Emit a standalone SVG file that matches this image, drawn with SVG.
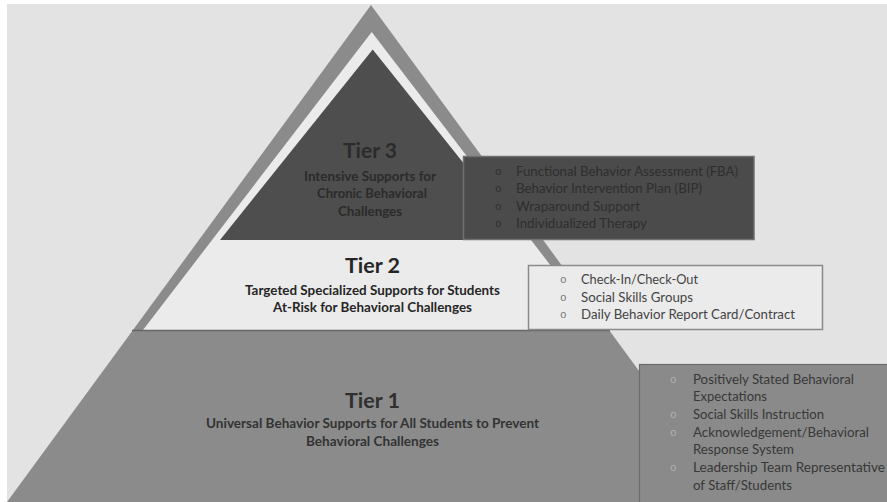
<svg xmlns="http://www.w3.org/2000/svg" width="887" height="502" viewBox="0 0 887 502">
  <style>
    text { font-family: "Lato", "Open Sans", "Liberation Sans", sans-serif; }
    .head { font-weight: 700; text-anchor: middle; }
    .tierTitle { font-size: 21px; }
    .sub { font-size: 13px; }
    .item { font-size: 13.5px; }
    .bul { font-family: "Liberation Mono", "DejaVu Sans Mono", monospace; font-size: 11px; }
  </style>

  <!-- page -->
  <rect x="0" y="0" width="887" height="502" fill="#ffffff"/>
  <rect x="7" y="4" width="880" height="498" fill="#e3e3e3"/>

  <!-- pyramid outline / Tier 1 base -->
  <g id="tier1">
    <polygon points="371,5 735,502 7,502" fill="#8b8b8b"/>
    <text class="head tierTitle" x="372.5" y="408" fill="#2f2f2f" textLength="55" lengthAdjust="spacingAndGlyphs">Tier 1</text>
    <text class="head sub" x="372.5" y="427.5" fill="#333333" textLength="333" lengthAdjust="spacingAndGlyphs">Universal Behavior Supports for All Students to Prevent</text>
    <text class="head sub" x="372.5" y="445.5" fill="#333333" textLength="133" lengthAdjust="spacingAndGlyphs">Behavioral Challenges</text>
  </g>

  <!-- Tier 2 band -->
  <g id="tier2">
    <polygon points="371.7,32 600,330 143,330" fill="#ebebeb"/>
    <line x1="132" y1="330.5" x2="610" y2="330.5" stroke="#666666" stroke-width="1.6"/>
    <text class="head tierTitle" x="372.5" y="273" fill="#262626" textLength="55" lengthAdjust="spacingAndGlyphs">Tier 2</text>
    <text class="head sub" x="372.5" y="294.5" fill="#262626" textLength="255" lengthAdjust="spacingAndGlyphs">Targeted Specialized Supports for Students</text>
    <text class="head sub" x="372.5" y="311.5" fill="#262626" textLength="199" lengthAdjust="spacingAndGlyphs">At-Risk for Behavioral Challenges</text>
  </g>

  <!-- Tier 3 peak -->
  <g id="tier3">
    <polygon points="372.7,49.5 525,240 220,240" fill="#4e4e4e"/>
    <text class="head tierTitle" x="370" y="158" fill="#2b2b2b" textLength="54" lengthAdjust="spacingAndGlyphs">Tier 3</text>
    <text class="head sub" x="370" y="180.5" fill="#2b2b2b" textLength="132" lengthAdjust="spacingAndGlyphs">Intensive Supports for</text>
    <text class="head sub" x="372" y="197.5" fill="#2b2b2b" textLength="110" lengthAdjust="spacingAndGlyphs">Chronic Behavioral</text>
    <text class="head sub" x="370" y="215.5" fill="#2b2b2b" textLength="64" lengthAdjust="spacingAndGlyphs">Challenges</text>
  </g>

  <!-- Tier 3 practices -->
  <g id="tier3-list">
    <rect x="463.5" y="156.5" width="290.5" height="83" fill="#4b4b4b" stroke="#6f6f6f" stroke-width="1.5"/>
    <g fill="#2e2e2e">
      <text class="bul" x="495" y="175">o</text>
      <text class="bul" x="495" y="192">o</text>
      <text class="bul" x="495" y="210">o</text>
      <text class="bul" x="495" y="227">o</text>
      <text class="item" x="516" y="175.5" textLength="222" lengthAdjust="spacingAndGlyphs">Functional Behavior Assessment (FBA)</text>
      <text class="item" x="516" y="192.5" textLength="186" lengthAdjust="spacingAndGlyphs">Behavior Intervention Plan (BIP)</text>
      <text class="item" x="516" y="210.5" textLength="124" lengthAdjust="spacingAndGlyphs">Wraparound Support</text>
      <text class="item" x="516" y="227.5" textLength="131" lengthAdjust="spacingAndGlyphs">Individualized Therapy</text>
    </g>
  </g>

  <!-- Tier 2 practices -->
  <g id="tier2-list">
    <rect x="528.5" y="265.5" width="294" height="64" fill="#ebebeb" stroke="#8a8a8a" stroke-width="1.5"/>
    <g fill="#444444">
      <text class="bul" x="560" y="283" fill="#777777">o</text>
      <text class="bul" x="560" y="301" fill="#777777">o</text>
      <text class="bul" x="560" y="318" fill="#777777">o</text>
      <text class="item" x="581" y="283.5" textLength="117" lengthAdjust="spacingAndGlyphs">Check-In/Check-Out</text>
      <text class="item" x="581" y="301.5" textLength="112" lengthAdjust="spacingAndGlyphs">Social Skills Groups</text>
      <text class="item" x="581" y="318.5" textLength="214" lengthAdjust="spacingAndGlyphs">Daily Behavior Report Card/Contract</text>
    </g>
  </g>

  <!-- Tier 1 practices -->
  <g id="tier1-list">
    <rect x="639.5" y="364.5" width="260" height="150" fill="#8a8a8a" stroke="#6c6c6c" stroke-width="1.2"/>
    <g fill="#383838">
      <text class="bul" x="670" y="383" fill="#b0b0b0">o</text>
      <text class="bul" x="670" y="418" fill="#b0b0b0">o</text>
      <text class="bul" x="670" y="436" fill="#b0b0b0">o</text>
      <text class="bul" x="670" y="471" fill="#b0b0b0">o</text>
      <text class="item" x="693" y="383.5" textLength="161" lengthAdjust="spacingAndGlyphs">Positively Stated Behavioral</text>
      <text class="item" x="693" y="400.5" textLength="74" lengthAdjust="spacingAndGlyphs">Expectations</text>
      <text class="item" x="693" y="418.5" textLength="131" lengthAdjust="spacingAndGlyphs">Social Skills Instruction</text>
      <text class="item" x="693" y="436.5" textLength="176" lengthAdjust="spacingAndGlyphs">Acknowledgement/Behavioral</text>
      <text class="item" x="693" y="453.5" textLength="101" lengthAdjust="spacingAndGlyphs">Response System</text>
      <text class="item" x="693" y="471.5" textLength="192" lengthAdjust="spacingAndGlyphs">Leadership Team Representative</text>
      <text class="item" x="693" y="489.5" textLength="99" lengthAdjust="spacingAndGlyphs">of Staff/Students</text>
    </g>
  </g>
</svg>
